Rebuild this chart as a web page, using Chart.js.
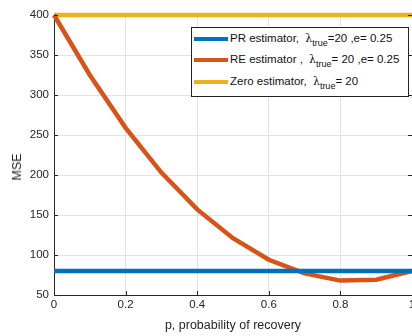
<!DOCTYPE html>
<html>
<head>
<meta charset="utf-8">
<script src="https://cdn.jsdelivr.net/npm/chart.js@4"></script>
<style>
  html, body { margin: 0; padding: 0; background: #fff; }
  body { width: 412px; height: 336px; overflow: hidden; position: relative; }
  #wrap { position: absolute; left: 0; top: 0; width: 430px; height: 336px; }
  #legend {
    position: absolute; left: 191px; top: 27px; width: 218px; height: 70px;
    border: 1px solid #222; background: #fff; box-sizing: border-box;
    font-family: "Liberation Sans", Arial, sans-serif; font-size: 11.5px; color: #111;
  }
  .row { position: absolute; left: 2px; height: 18px; line-height: 18px; white-space: nowrap; }
  .sw { display: inline-block; width: 34px; height: 4px; vertical-align: middle; margin-right: 2px; }
  .lam { font-family: "DejaVu Serif", serif; font-size: 11px; margin-left: 3px; }
  sub { font-size: 9px; vertical-align: -4px; line-height: 0; }
  .axtitle { position: absolute; font-family: "Liberation Sans", Arial, sans-serif; font-size: 12.5px; color: #262626; white-space: nowrap; }
  #xtitle { left: 233px; top: 318px; transform: translateX(-50%); }
  #ytitle { left: 17px; top: 167px; transform: translate(-50%, -50%) rotate(-90deg); }
</style>
</head>
<body>
<div id="wrap"><canvas id="chart" width="430" height="336"></canvas></div>
<div id="xtitle" class="axtitle">p, probability of recovery</div>
<div id="ytitle" class="axtitle">MSE</div>
<div id="legend">
  <div class="row" style="top:1px"><span class="sw" style="background:#0072BD"></span>PR estimator, <span class="lam">&lambda;</span><sub>true</sub>=20 ,e= 0.25</div>
  <div class="row" style="top:22px"><span class="sw" style="background:#D95319"></span>RE estimator , <span class="lam">&lambda;</span><sub>true</sub>= 20 ,e= 0.25</div>
  <div class="row" style="top:44px"><span class="sw" style="background:#EDB120"></span>Zero estimator, <span class="lam">&lambda;</span><sub>true</sub>= 20</div>
</div>
<script>
// --- Data ---
const pValues = [0, 0.1, 0.2, 0.3, 0.4, 0.5, 0.6, 0.7, 0.8, 0.9, 1.0];
const prMse = [80, 80, 80, 80, 80, 80, 80, 80, 80, 80, 80];
const reMse = [400, 325, 259, 203, 157, 121, 94, 77, 68, 69, 80];
const zeroMse = [400, 400, 400, 400, 400, 400, 400, 400, 400, 400, 400];

const font = "'Liberation Sans', Arial, sans-serif";

function toPoints(ys) {
  return pValues.map((p, i) => ({ x: p, y: ys[i] }));
}

// MATLAB-style inward tick marks on left, right and bottom
const innerTicks = {
  id: "innerTicks",
  afterDatasetsDraw(chart) {
    const { ctx, chartArea: a, scales } = chart;
    ctx.save();
    ctx.strokeStyle = "#262626";
    ctx.lineWidth = 1;
    ctx.beginPath();
    scales.y.ticks.forEach((t) => {
      const y = Math.round(scales.y.getPixelForValue(t.value)) + 0.5;
      ctx.moveTo(a.left, y); ctx.lineTo(a.left + 4, y);
      ctx.moveTo(a.right, y); ctx.lineTo(a.right - 4, y);
    });
    scales.x.ticks.forEach((t) => {
      const x = Math.round(scales.x.getPixelForValue(t.value)) + 0.5;
      ctx.moveTo(x, a.bottom); ctx.lineTo(x, a.bottom - 4);
    });
    ctx.stroke();
    ctx.restore();
  },
};

const ctx = document.getElementById("chart").getContext("2d");
new Chart(ctx, {
  type: "line",
  data: {
    datasets: [
      { data: toPoints(prMse), borderColor: "#0072BD", borderWidth: 4.5, pointRadius: 0, tension: 0, clip: false },
      { data: toPoints(reMse), borderColor: "#D95319", borderWidth: 4.5, pointRadius: 0, tension: 0, clip: false },
      { data: toPoints(zeroMse), borderColor: "#EDB120", borderWidth: 4.5, pointRadius: 0, tension: 0, clip: false },
    ],
  },
  options: {
    responsive: false,
    animation: false,
    layout: { padding: { top: 15, right: 18, left: 0, bottom: 0 } },
    plugins: { legend: { display: false }, tooltip: { enabled: false } },
    scales: {
      x: {
        type: "linear",
        min: 0,
        max: 1,
        ticks: { stepSize: 0.2, color: "#262626", font: { family: font, size: 11.5 }, padding: 3,
          callback: (v) => (Math.round(v * 10) / 10).toString() },
        grid: { color: "#e3e3e3", drawTicks: false },
        border: { color: "#262626" },
        afterFit: (s) => { s.height = 41; },
      },
      y: {
        min: 50,
        max: 400,
        ticks: { stepSize: 50, color: "#262626", font: { family: font, size: 11.5 }, padding: 5 },
        grid: { color: "#e3e3e3", drawTicks: false },
        border: { color: "#262626" },
        afterFit: (s) => { s.width = 54; },
      },
    },
  },
  plugins: [innerTicks],
});
</script>
</body>
</html>
